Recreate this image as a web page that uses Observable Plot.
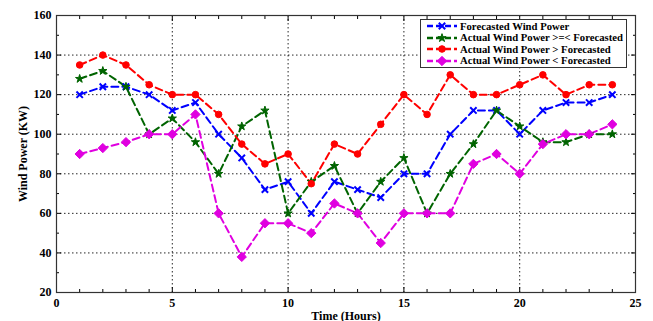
<!DOCTYPE html>
<html>
<head>
<meta charset="utf-8">
<script src="https://cdn.jsdelivr.net/npm/d3@7"></script>
<script src="https://cdn.jsdelivr.net/npm/@observablehq/plot@0.6"></script>
<style>
  html, body { margin: 0; padding: 0; background: #fff; }
  #wrap { position: relative; width: 653px; height: 321px; }
  #legend {
    position: absolute; left: 420px; top: 19px; width: auto; padding: 0.5px 3px 0.5px 0;
    border: 1.5px solid #333; background: #fff;
    font-family: "Times New Roman", "Liberation Serif", "DejaVu Serif", serif; font-weight: bold; font-size: 10.7px;
    line-height: 11.6px; color: #000;
  }
  #legend .row { display: flex; align-items: center; height: 11.6px; white-space: nowrap; }
  #legend svg { margin-left: 5px; margin-right: 2px; flex: none; }
  svg text { font-family: "Times New Roman", "Liberation Serif", "DejaVu Serif", serif; }
</style>
</head>
<body>
<div id="wrap"><div id="chart"></div><div id="legend"></div></div>
<script>
const hours = [1,2,3,4,5,6,7,8,9,10,11,12,13,14,15,16,17,18,19,20,21,22,23,24];
const forecasted = [120,124,124,120,112,116,100,88,72,76,60,76,72,68,80,80,100,112,112,100,112,116,116,120];
const actualEqual = [128,132,124,100,108,96,80,104,112,60,76,84,60,76,88,60,80,95,112,104,96,96,100,100];
const actualAbove = [135,140,135,125,120,120,110,95,85,90,75,95,90,105,120,110,130,120,120,125,130,120,125,125];
const actualBelow = [90,93,96,100,100,110,60,38,55,55,50,65,60,45,60,60,60,85,90,80,95,100,100,105];

const seriesNames = ["Forecasted Wind Power", "Actual Wind Power >=< Forecasted", "Actual Wind Power > Forecasted", "Actual Wind Power < Forecasted"];
const seriesValues = [forecasted, actualEqual, actualAbove, actualBelow];
const seriesColors = ["#0000ff", "#006400", "#ff0000", "#e000e0"];
const seriesSymbols = ["times", "star", "circle", "diamond2"];
const seriesR = [3, 2.6, 3.3, 4.2];

const xMajor = [0,5,10,15,20,25];
const xMinor = [1,2,3,4,6,7,8,9,11,12,13,14,16,17,18,19,21,22,23,24];
const yMajor = [20,40,60,80,100,120,140,160];
const yMinor = [30,50,70,90,110,130,150];

const rows = [];
seriesNames.forEach((name, s) => {
  hours.forEach((h, i) => rows.push({series: name, hour: h, value: seriesValues[s][i], s}));
});

const lineMarks = [];
const dotMarks = [];
seriesNames.forEach((name, s) => {
  const d = rows.filter(r => r.s === s);
  lineMarks.push(Plot.line(d, {x: "hour", y: "value", stroke: seriesColors[s], strokeWidth: 2, strokeDasharray: "7,4"}));
  const filled = seriesSymbols[s] !== "times";
  dotMarks.push(Plot.dot(d, {x: "hour", y: "value", symbol: () => seriesSymbols[s], r: seriesR[s],
    fill: filled ? seriesColors[s] : "none", stroke: seriesColors[s], strokeWidth: filled ? 1 : 2}));
});

const chart = Plot.plot({
  width: 653, height: 321,
  marginLeft: 56, marginRight: 18, marginTop: 15, marginBottom: 29,
  style: {fontFamily: "'Times New Roman', 'Liberation Serif', serif", fontWeight: "bold", fontSize: "12px", background: "#fff", color: "#000"},
  x: {domain: [0, 25]},
  y: {domain: [20, 160]},
  symbol: {type: "identity"},
  marks: [
    Plot.gridX([5,10,15,20], {stroke: "#000", strokeOpacity: 0.85, strokeDasharray: "1.5,2.5"}),
    Plot.gridY([40,60,80,100,120,140], {stroke: "#000", strokeOpacity: 0.85, strokeDasharray: "1.5,2.5"}),
    Plot.axisX(xMajor, {anchor: "bottom", tickSize: -5, tickPadding: 11, fontSize: 12, label: "Time (Hours)", labelAnchor: "center", labelArrow: "none", labelOffset: 27}),
    Plot.axisX(xMinor, {anchor: "bottom", tickSize: -3, text: null, label: null}),
    Plot.axisX(xMajor, {anchor: "top", tickSize: -5, text: null, label: null}),
    Plot.axisX(xMinor, {anchor: "top", tickSize: -3, text: null, label: null}),
    Plot.axisY(yMajor, {anchor: "left", tickSize: -5, tickPadding: 10, fontSize: 12, label: "Wind Power (KW)", labelAnchor: "center", labelArrow: "none", labelOffset: 38}),
    Plot.axisY(yMinor, {anchor: "left", tickSize: -3, text: null, label: null}),
    Plot.axisY(yMajor, {anchor: "right", tickSize: -5, text: null, label: null}),
    Plot.axisY(yMinor, {anchor: "right", tickSize: -3, text: null, label: null}),
    ...lineMarks,
    ...dotMarks,
    Plot.frame({stroke: "#333", strokeWidth: 1.2})
  ]
});
document.getElementById("chart").appendChild(chart);

// Legend
const legend = document.getElementById("legend");
const symbolMap = {times: d3.symbolTimes, star: d3.symbolStar, circle: d3.symbolCircle, diamond2: d3.symbolDiamond2};
seriesNames.forEach((name, s) => {
  const row = document.createElement("div");
  row.className = "row";
  const svg = d3.create("svg").attr("width", 32).attr("height", 10);
  svg.append("line").attr("x1", 1).attr("x2", 31).attr("y1", 5).attr("y2", 5)
    .attr("stroke", seriesColors[s]).attr("stroke-width", 2.5).attr("stroke-dasharray", "6,3");
  const filled = seriesSymbols[s] !== "times";
  const size = Math.PI * seriesR[s] * seriesR[s];
  svg.append("path").attr("transform", "translate(16,5)")
    .attr("d", d3.symbol(symbolMap[seriesSymbols[s]], size)())
    .attr("fill", filled ? seriesColors[s] : "none").attr("stroke", seriesColors[s]).attr("stroke-width", filled ? 1 : 2);
  row.appendChild(svg.node());
  const span = document.createElement("span");
  span.textContent = name;
  row.appendChild(span);
  legend.appendChild(row);
});
</script>
</body>
</html>
